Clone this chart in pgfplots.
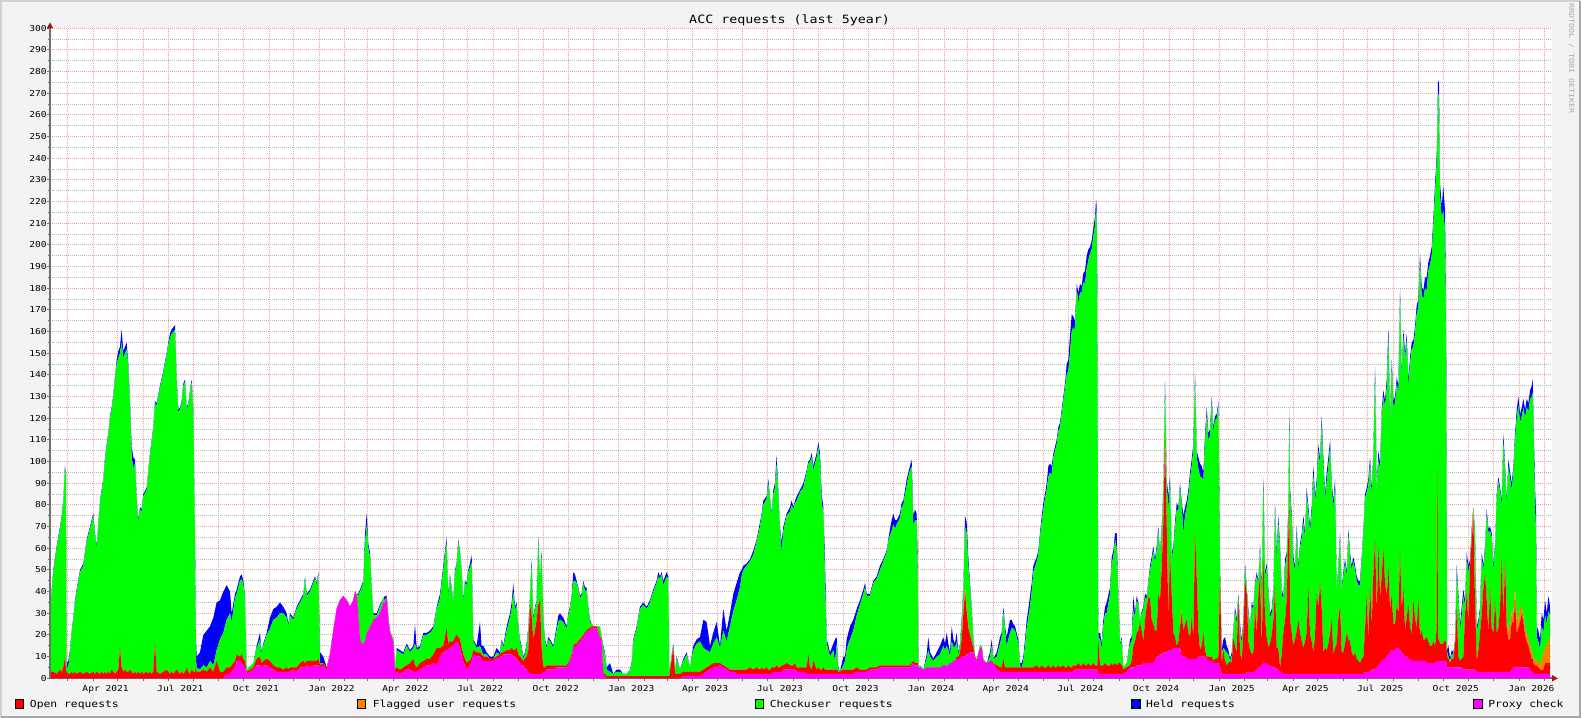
\documentclass[border=0pt]{standalone}
\usepackage{fontspec}
\setmonofont[FakeStretch=1.17]{DejaVu Sans Mono}
\usepackage{pgfplots}
\usepackage{pgfplotstable}
\pgfplotsset{compat=1.18}
\usetikzlibrary{arrows.meta}
\definecolor{bgc}{HTML}{F3F3F3}
\definecolor{mgridc}{HTML}{F2A0A0}
\definecolor{gridc}{HTML}{B8B8B8}
\definecolor{axisc}{HTML}{707070}
\definecolor{arrowc}{HTML}{A01818}
\definecolor{cRed}{HTML}{FF0000}
\definecolor{cOrange}{HTML}{FF8000}
\definecolor{cGreen}{HTML}{00FF00}
\definecolor{cBlue}{HTML}{0000FF}
\definecolor{cMag}{HTML}{FF00FF}

% d = days since 1 Jan 2021; p = proxy check, o = open, f = flagged, c = checkuser, h = held
\pgfplotstableread{
d p o f c h
38.5 0 3 0 33 1
41.3 0 3 0 46 1
45.4 0 2 0 58 1
49.5 0 4 0 65 1
51.9 0 3 0 72 1
53.5 0 5 0 76 1
55.5 0 10 0 87 1
56.8 0 4 0 90 1
57.6 0 3 0 2 2
59.6 0 2 0 3 3
61.6 0 2 0 10 1
63.7 0 3 0 18 1
65.7 0 2 0 25 1
67.7 0 3 0 32 1
69.7 0 2 0 38 1
73.8 0 3 0 46 1
77.9 0 2 0 50 1
81.9 0 3 0 60 1
86.0 0 2 0 67 1
90.0 0 3 0 72 1
92.1 0 2 0 64 1
94.1 0 3 0 57 1
98.2 0 2 0 79 1
100.2 0 3 0 83 1
102.2 0 2 0 89 1
104.3 0 3 0 98 1
106.3 0 2 0 105 1
108.3 0 3 0 109 1
110.3 0 2 0 118 1
112.4 0 4 0 120 1
114.4 0 3 0 127 1
116.4 0 2 0 136 1
118.5 0 3 0 142 2
120.5 0 4 0 144 3
122.5 0 14 0 136 3
124.5 0 5 0 150 6
126.6 0 3 0 145 3
128.6 0 4 0 146 3
130.6 0 3 0 149 3
132.7 0 3 0 140 2
134.7 0 4 0 122 2
136.7 0 3 0 99 5
138.8 0 2 0 95 5
140.8 0 3 0 96 2
142.8 0 2 0 81 1
144.8 0 3 0 69 1
146.9 0 2 0 76 1
148.9 0 3 0 74 1
150.9 0 2 0 82 1
155.0 0 3 0 84 1
157.0 0 2 0 93 1
159.0 0 3 0 100 1
161.1 0 2 0 107 1
163.1 0 3 0 112 1
165.1 0 16 0 111 1
167.2 0 3 0 123 1
171.2 0 2 0 132 1
175.3 0 3 0 138 1
179.3 0 4 0 145 1
181.4 0 3 0 151 1
183.4 0 2 0 155 2
185.4 0 3 0 156 2
187.5 0 2 0 158 2
189.5 0 3 0 158 2
191.5 0 4 0 134 1
193.5 0 3 0 120 1
195.6 0 2 0 122 1
197.6 0 3 0 124 1
199.6 0 2 0 133 1
201.7 0 3 0 134 1
203.7 0 5 0 119 1
205.7 0 3 0 123 1
207.8 0 2 0 130 1
209.8 0 4 0 133 1
211.8 0 3 0 120 1
213.8 0 3 0 63 2
215.1 0 5 0 3 10
215.9 0 3 0 2 5
219.9 0 3 0 1 8
224.0 0 4 0 2 14
228.1 0 3 0 2 17
232.1 0 5 0 3 16
236.2 0 3 0 3 22
240.2 0 8 0 5 22
244.3 0 3 0 15 18
248.3 0 3 0 18 19
252.4 2 3 0 22 16
256.5 2 3 0 25 10
258.5 3 3 0 20 4
262.6 5 3 0 29 2
264.6 8 3 0 28 2
268.6 8 2 0 35 2
270.7 7 4 0 35 2
272.7 6 3 0 34 2
274.7 5 3 0 29 1
276.8 2 1 0 1 0
284.9 4 1 0 2 0
288.9 6 3 0 5 1
293.0 6 4 0 8 3
295.0 5 2 0 4 1
297.0 6 2 0 7 1
301.1 6 3 0 11 1
305.2 5 3 0 15 5
309.2 4 2 0 21 5
313.3 3 2 0 23 5
317.3 3 2 0 25 5
321.4 3 1 0 26 3
325.5 3 2 0 23 2
327.5 3 1 0 20 1
329.5 3 2 0 24 1
333.6 4 1 0 22 1
337.6 3 2 0 27 1
341.7 5 2 0 28 1
345.8 5 3 0 30 1
347.8 5 2 0 39 1
349.8 6 2 0 30 1
353.9 5 3 0 32 1
357.9 6 2 0 36 1
360.0 6 2 0 38 1
362.0 6 2 0 35 1
364.0 6 3 0 39 1
366.1 5 1 0 1 5
370.1 6 1 0 0 3
374.2 4 1 0 0 0
378.2 11 0 0 0 0
382.3 22 0 0 0 0
386.4 32 0 0 0 0
390.4 36 0 0 0 0
394.5 38 0 0 0 0
398.5 36 0 0 0 0
402.6 33 0 0 0 0
406.6 36 0 0 0 0
408.7 40 0 0 0 0
410.7 38 0 0 1 0
412.7 30 0 0 8 1
414.8 18 0 0 22 1
416.8 16 0 0 26 1
418.8 16 0 0 28 1
420.9 17 0 0 45 5
422.9 21 0 0 50 5
424.9 22 0 0 38 2
427.0 24 0 0 32 2
429.0 25 0 0 16 1
431.0 27 0 0 2 1
435.0 28 0 0 1 1
439.1 30 0 0 3 1
443.2 35 0 0 2 0
445.2 35 0 0 1 2
447.2 38 0 0 0 0
449.3 27 0 0 1 0
451.3 21 0 0 1 0
455.4 17 0 0 1 0
457.4 3 1 0 1 0
459.4 3 2 0 8 1
463.5 2 2 0 8 1
467.5 3 2 0 6 1
471.6 4 2 0 9 1
475.6 4 3 0 5 1
479.7 3 6 0 5 1
481.7 3 3 0 10 9
483.8 3 2 0 8 1
487.8 4 3 0 7 1
491.9 5 3 0 12 1
496.0 6 3 0 11 1
500.0 6 3 0 12 1
504.1 7 4 0 12 1
508.1 6 8 0 18 1
512.2 10 4 0 23 2
516.2 12 3 0 35 2
520.2 13 10 0 40 2
522.2 13 3 0 21 1
524.3 14 3 0 30 1
528.3 15 2 0 18 1
530.4 16 3 0 30 1
532.4 17 3 0 32 1
534.4 16 3 0 44 1
536.5 14 4 0 40 1
538.5 11 3 0 35 1
540.5 8 3 0 24 1
542.5 6 3 0 35 1
544.6 4 3 0 36 1
546.6 5 3 0 41 1
548.6 6 2 0 43 2
550.7 8 2 0 44 3
552.7 11 2 0 4 1
556.8 10 2 0 2 1
560.8 10 2 0 3 11
562.8 9 2 0 2 2
564.9 8 2 0 1 4
568.9 8 2 0 1 1
573.0 8 1 0 0 1
577.0 8 1 0 0 1
581.1 9 1 0 2 2
585.2 10 1 0 0 1
587.2 10 2 0 5 1
589.2 11 1 0 2 1
593.3 11 2 0 9 2
597.3 11 2 0 15 2
599.4 11 3 0 18 3
601.4 10 3 0 27 4
603.4 10 3 0 18 2
605.5 9 5 0 20 1
607.5 8 3 0 12 1
609.5 7 3 0 7 1
611.5 6 3 0 5 1
613.6 6 2 0 1 1
615.6 5 4 0 2 1
617.6 4 6 0 5 1
619.7 3 10 0 10 1
621.7 2 32 0 3 1
623.7 2 27 0 24 2
625.8 2 16 0 9 1
627.8 2 20 0 10 1
629.8 2 25 0 8 1
631.8 2 32 0 30 1
633.9 2 34 0 10 1
635.9 2 12 0 44 1
637.9 3 2 0 22 1
640.0 3 2 0 12 1
642.0 4 2 0 8 1
644.0 4 2 0 12 1
646.1 4 2 0 11 1
650.1 4 2 0 8 1
654.2 5 1 0 16 2
656.2 5 1 0 20 3
658.2 5 1 0 21 3
662.3 5 1 0 20 2
666.3 5 1 0 17 1
668.4 6 1 0 22 1
670.4 8 1 0 23 1
672.4 10 1 0 26 1
674.5 14 1 0 30 4
676.5 15 1 0 29 3
678.5 15 1 0 28 1
680.5 16 1 0 24 1
682.6 17 1 0 19 1
684.6 18 1 0 19 1
686.6 19 1 0 24 1
688.7 20 1 0 19 2
690.7 21 1 0 19 1
692.7 22 1 0 9 1
694.8 22 1 0 3 1
696.8 23 1 0 1 0
698.8 23 1 0 0 0
702.9 23 1 0 0 0
706.9 18 1 0 5 0
709.0 17 1 0 1 0
711.0 1 1 0 12 1
713.0 1 1 0 9 1
715.1 0 1 0 3 1
719.1 0 1 0 2 4
723.2 0 1 0 1 0
727.2 0 1 0 2 1
731.3 0 1 0 2 1
735.4 0 1 0 1 0
739.4 0 1 0 1 0
743.5 0 1 0 3 0
745.5 0 1 0 5 1
747.5 0 1 0 16 1
751.6 0 1 0 22 1
755.6 0 1 0 31 1
759.7 0 1 0 33 1
763.8 0 1 0 31 1
767.8 0 1 0 34 1
771.9 0 1 0 39 1
775.9 0 1 0 43 1
778.0 0 1 0 46 2
780.0 0 1 0 45 1
782.0 0 1 0 47 1
784.1 0 1 0 42 2
788.1 0 1 0 46 2
790.1 0 1 0 45 1
791.4 0 1 0 2 0
796.2 0 14 0 1 1
798.3 0 2 0 2 0
800.3 0 2 0 7 1
804.4 0 2 0 2 0
808.4 1 2 0 5 1
812.5 1 2 0 8 1
816.5 1 2 0 2 0
820.6 1 2 0 10 2
824.6 1 2 0 13 2
828.7 1 2 0 14 2
832.8 2 2 0 10 13
836.8 3 2 0 8 13
840.9 4 2 0 6 3
844.9 5 2 0 9 5
849.0 5 2 0 12 7
853.1 6 1 0 7 1
857.1 5 1 0 16 10
861.2 4 1 0 12 5
865.2 3 1 0 20 6
869.3 3 1 0 27 8
873.3 2 2 0 32 8
877.4 2 2 0 38 7
879.4 2 2 0 43 3
881.5 2 2 0 46 2
885.5 2 2 0 48 1
889.6 2 3 0 49 1
893.7 2 2 0 53 2
897.7 2 3 0 58 1
901.8 2 2 0 66 2
903.8 2 3 0 70 1
905.8 2 2 0 76 2
909.9 2 3 0 78 1
911.9 2 2 0 86 2
913.9 2 2 0 79 1
916.0 2 3 0 70 1
918.0 3 2 0 80 2
920.0 3 2 0 83 2
922.0 3 3 0 93 4
924.1 3 2 0 80 2
926.1 3 2 0 64 1
928.1 3 3 0 52 5
930.2 4 2 0 62 2
934.2 4 3 0 68 1
938.3 4 2 0 71 2
940.3 4 2 0 74 2
942.4 4 2 0 72 1
944.4 4 3 0 74 1
946.4 3 2 0 77 2
950.5 3 2 0 81 1
954.5 3 2 0 83 2
958.6 2 3 0 90 1
960.6 2 9 0 88 1
962.7 2 3 0 95 1
964.7 2 2 0 98 2
966.7 2 6 0 88 2
970.8 2 2 0 98 2
972.8 2 3 0 102 2
974.8 2 2 0 97 3
976.9 2 2 0 76 5
978.9 2 3 0 73 1
980.9 2 2 0 40 11
983.0 2 2 0 12 2
987.0 2 2 0 6 2
991.1 2 2 0 9 3
993.1 2 2 0 3 11
995.1 2 2 0 12 3
997.1 2 1 0 1 1
999.2 2 1 0 0 0
1003.2 2 2 0 2 4
1005.3 2 2 0 4 2
1007.3 2 2 0 9 5
1009.3 2 2 0 12 5
1011.4 2 2 0 14 6
1015.4 2 2 0 18 5
1019.5 3 2 0 24 3
1023.5 3 1 0 30 2
1027.6 3 1 0 35 2
1029.6 3 1 0 38 2
1031.6 3 1 0 34 1
1035.7 4 1 0 33 1
1037.7 4 1 0 36 1
1039.8 4 1 0 39 1
1043.8 4 1 0 41 1
1047.9 5 1 0 44 2
1051.9 5 1 0 48 1
1056.0 5 1 0 52 1
1058.0 5 1 0 57 1
1060.1 5 1 0 60 3
1062.1 5 1 0 62 5
1064.1 5 1 0 65 5
1066.2 5 1 0 63 4
1068.2 5 1 0 65 2
1072.2 5 1 0 68 2
1074.3 5 1 0 73 2
1076.3 5 1 0 74 2
1078.3 5 1 0 79 2
1080.4 5 1 0 83 3
1082.4 5 1 0 87 2
1084.4 5 1 0 90 2
1086.4 6 1 0 91 3
1088.5 7 1 0 62 5
1090.5 6 1 0 66 5
1092.5 6 1 0 66 3
1093.8 6 1 0 38 10
1094.6 5 0 0 0 0
1096.6 5 0 0 1 0
1100.7 4 0 0 0 0
1104.7 5 0 0 4 2
1106.7 5 0 0 8 6
1108.8 5 0 0 5 2
1112.8 5 0 0 3 1
1116.9 5 0 0 5 2
1120.9 5 0 0 6 4
1125.0 6 0 0 9 4
1127.0 6 0 0 7 3
1129.1 6 0 0 9 6
1131.1 6 0 0 7 3
1133.1 7 0 0 3 2
1135.2 7 0 0 10 7
1137.2 8 0 0 7 3
1139.2 8 0 0 6 2
1141.2 9 1 0 7 4
1143.3 9 1 0 1 1
1145.3 9 3 0 3 1
1147.3 10 8 0 7 2
1149.4 10 20 3 7 2
1151.4 10 30 2 28 5
1153.4 11 20 2 34 5
1155.5 11 12 1 27 4
1157.5 12 8 0 22 2
1159.5 12 5 0 14 2
1161.5 12 2 0 4 1
1163.6 9 1 0 0 0
1165.6 8 0 0 1 0
1169.7 14 0 0 1 0
1171.7 14 0 0 1 0
1173.7 8 0 0 1 0
1177.8 7 0 0 0 0
1181.8 8 0 0 2 2
1183.9 8 0 0 7 3
1185.9 7 0 0 2 0
1190.0 4 2 0 4 2
1194.0 3 2 0 11 3
1196.0 3 2 0 14 2
1198.1 3 6 0 22 2
1200.1 3 2 0 17 2
1202.1 3 2 0 10 4
1206.2 3 2 0 16 6
1208.2 3 2 0 18 4
1210.2 3 2 0 18 2
1212.3 3 2 0 17 2
1214.3 3 2 0 14 2
1216.3 3 2 0 11 2
1218.4 3 2 0 1 1
1220.4 3 2 0 0 2
1222.4 3 2 0 3 2
1224.5 3 2 0 10 3
1226.5 3 2 0 18 4
1228.5 3 2 0 23 4
1230.5 3 2 0 28 5
1232.6 3 2 0 35 4
1234.6 3 2 0 44 3
1238.7 3 3 0 48 2
1240.7 3 2 0 52 2
1242.7 3 2 0 60 2
1244.8 3 3 0 66 3
1246.8 3 2 0 73 3
1248.8 3 2 0 78 2
1250.8 3 2 0 82 3
1252.9 3 3 0 87 5
1254.9 3 2 0 90 4
1256.9 3 2 0 89 4
1259.0 3 3 0 96 2
1261.0 3 2 0 100 2
1263.0 3 2 0 103 2
1265.0 3 3 0 108 2
1267.1 3 2 0 111 2
1271.1 3 3 0 122 2
1273.2 3 2 0 129 2
1275.2 3 2 0 135 5
1277.2 3 3 0 136 5
1279.2 3 2 0 145 8
1281.3 3 2 0 155 8
1283.3 3 3 0 156 5
1285.3 4 2 0 155 4
1287.4 4 2 0 174 2
1289.4 4 3 0 166 5
1291.4 4 2 0 172 4
1293.4 4 2 0 172 3
1295.5 4 3 0 176 4
1297.5 4 2 0 176 6
1299.5 4 2 0 183 6
1301.6 4 3 0 186 5
1303.6 4 2 0 190 3
1305.6 4 2 0 192 4
1307.7 4 3 0 197 4
1309.7 4 2 0 203 4
1310.9 4 2 0 210 5
1311.7 4 2 0 208 4
1312.5 4 2 0 166 10
1313.7 2 15 0 2 2
1315.8 2 4 0 12 3
1317.8 2 4 0 8 2
1319.8 2 4 0 18 3
1321.9 2 5 0 23 3
1323.9 2 4 0 24 5
1328.0 2 4 0 33 3
1330.0 2 5 0 46 3
1332.0 2 4 0 50 3
1334.1 2 5 0 57 3
1336.1 2 4 0 54 7
1338.1 2 5 0 30 2
1340.1 2 5 0 8 1
1342.2 2 4 0 12 1
1344.2 2 2 0 1 0
1348.3 3 2 0 2 0
1352.3 5 1 0 10 2
1354.3 5 3 0 9 2
1356.4 5 10 0 17 6
1358.4 5 12 0 11 2
1360.4 6 15 0 15 2
1362.5 6 16 0 12 1
1364.5 6 20 0 1 0
1366.5 6 16 0 8 1
1368.6 7 10 0 15 1
1370.6 7 20 0 10 2
1372.6 7 26 0 4 1
1374.6 7 30 0 7 1
1376.7 7 30 0 13 2
1378.7 7 20 0 27 2
1380.7 7 18 0 34 2
1382.7 8 14 0 31 2
1384.8 10 12 0 37 2
1386.8 10 29 0 29 2
1388.8 11 25 0 20 2
1390.9 11 40 2 15 2
1392.9 12 60 2 12 1
1394.9 12 98 2 23 2
1397.0 12 58 1 18 3
1399.0 13 15 0 50 6
1401.0 13 45 0 33 2
1403.1 13 25 0 18 2
1405.1 14 7 0 38 2
1407.1 14 5 0 50 3
1409.2 14 1 0 63 3
1411.2 14 3 0 60 2
1413.2 14 10 0 64 2
1415.2 10 20 2 48 2
1417.3 10 12 0 45 8
1419.3 10 15 0 50 4
1421.3 9 18 0 52 3
1423.3 9 12 0 63 3
1425.4 9 10 0 73 3
1427.4 9 19 0 70 3
1429.4 9 10 0 86 3
1431.5 9 58 0 72 2
1433.5 9 38 0 55 3
1435.5 10 12 0 75 5
1437.6 10 3 0 80 6
1439.6 10 5 0 78 5
1441.6 10 11 0 70 4
1443.6 10 3 0 95 4
1445.7 9 1 0 112 3
1447.7 8 2 0 100 3
1449.7 8 2 0 102 3
1451.8 8 2 0 118 2
1453.8 7 1 0 106 2
1455.8 7 2 0 110 2
1457.9 7 2 0 111 2
1459.9 7 3 0 116 2
1461.9 5 42 0 3 2
1463.9 2 5 0 5 1
1466.0 2 11 0 1 4
1468.0 2 6 0 5 6
1470.0 2 4 0 6 3
1472.1 2 5 0 4 2
1474.1 2 6 0 0 1
1476.1 2 5 0 3 2
1478.1 2 16 0 3 1
1480.2 2 13 0 16 2
1482.2 2 10 0 13 2
1484.2 2 34 0 2 1
1486.3 2 10 0 11 2
1488.3 2 6 0 8 2
1490.3 2 19 0 4 2
1492.4 2 43 0 6 2
1494.4 3 36 0 2 1
1496.4 3 14 0 13 2
1498.4 3 10 0 10 1
1500.5 3 8 0 22 2
1502.5 3 9 0 20 1
1504.5 3 30 0 10 1
1506.6 4 16 0 27 2
1508.6 5 34 0 5 1
1510.6 5 43 0 12 2
1512.7 6 8 0 25 2
1514.7 7 48 0 36 2
1516.7 7 21 0 19 2
1518.7 7 12 0 32 2
1520.8 6 8 0 25 2
1522.8 6 10 0 12 2
1524.8 5 15 0 10 2
1526.9 5 22 0 12 2
1528.9 5 37 0 37 2
1530.9 4 10 0 40 4
1532.9 4 10 0 58 3
1535.0 3 2 0 53 3
1537.0 3 8 0 28 2
1539.0 2 19 0 15 2
1541.1 2 25 0 25 3
1543.1 2 34 0 20 2
1545.1 2 65 0 10 2
1546.3 2 77 0 44 2
1547.1 2 25 0 58 3
1549.2 2 19 0 52 3
1551.2 2 13 0 38 3
1553.2 2 16 0 32 2
1555.3 2 20 0 45 3
1557.3 2 25 0 23 2
1559.3 2 19 0 39 2
1561.4 2 15 0 48 2
1563.4 2 12 0 58 3
1565.4 2 15 0 47 3
1567.4 2 19 0 64 3
1569.5 2 40 0 34 3
1571.5 2 18 0 47 3
1573.5 2 15 0 59 3
1575.6 2 10 0 82 4
1577.6 2 18 0 61 3
1579.6 2 37 0 50 3
1581.7 2 31 0 72 3
1583.7 2 42 0 54 3
1585.7 2 30 0 86 3
1587.7 2 10 0 86 4
1589.8 2 12 0 68 3
1591.8 2 11 0 78 4
1593.8 2 14 0 82 4
1595.9 2 19 0 86 3
1597.9 2 25 0 60 3
1599.9 2 9 0 68 3
1602.0 2 12 0 75 3
1604.0 2 14 0 24 2
1606.0 2 26 0 22 2
1608.0 2 31 0 32 2
1610.1 2 10 0 28 2
1612.1 2 10 0 35 2
1614.1 2 14 0 37 2
1616.2 2 19 0 26 2
1618.2 2 16 0 49 2
1620.2 2 15 0 39 2
1622.2 2 10 0 38 2
1624.3 2 8 0 44 2
1626.3 2 10 0 38 2
1628.3 2 7 0 36 2
1630.4 2 6 0 35 2
1632.4 2 5 0 36 2
1634.4 2 7 0 45 2
1636.5 2 8 0 57 2
1638.5 3 20 0 60 2
1640.5 3 35 0 48 2
1642.5 3 15 0 71 3
1644.6 3 40 0 56 3
1646.6 4 20 0 60 3
1648.6 4 45 0 53 3
1650.7 4 60 0 77 3
1652.7 5 25 0 55 3
1654.7 6 55 0 40 4
1656.8 7 30 0 59 3
1658.8 8 40 0 73 3
1660.8 9 50 0 71 3
1662.8 9 35 0 81 3
1664.9 10 28 0 96 4
1666.9 11 40 0 106 5
1668.9 12 20 0 86 3
1671.0 13 25 0 106 3
1673.0 13 12 0 100 3
1675.0 13 12 0 102 3
1677.1 14 20 0 102 3
1679.1 14 16 0 101 4
1681.1 13 45 0 119 3
1683.1 12 20 0 106 3
1685.2 11 30 0 117 3
1687.2 10 12 0 125 3
1689.2 10 18 0 128 3
1691.2 9 25 0 101 3
1693.3 9 15 0 121 3
1695.3 8 12 0 132 3
1697.3 8 28 0 117 3
1699.3 8 20 0 131 3
1701.3 8 15 0 145 4
1703.4 8 28 0 135 4
1705.4 8 12 0 172 4
1707.4 8 14 0 155 4
1709.5 8 10 0 157 4
1711.5 8 10 0 162 5
1713.5 7 12 0 160 6
1715.5 7 10 0 171 4
1717.6 7 8 0 176 4
1719.6 7 8 0 180 4
1721.6 7 10 0 191 4
1723.7 7 8 0 208 5
1725.7 8 15 0 214 5
1726.5 8 88 0 155 5
1727.3 8 10 0 252 6
1728.5 8 10 0 250 7
1729.7 8 8 0 207 6
1731.8 8 8 0 196 6
1733.8 8 8 0 200 11
1735.8 8 10 0 188 10
1737.1 8 8 0 140 19
1738.5 5 5 0 2 1
1740.0 5 4 0 1 5
1742.0 5 2 0 1 1
1744.0 5 4 0 2 2
1746.0 5 4 0 2 1
1748.1 5 10 0 2 1
1750.1 5 27 0 17 3
1752.1 5 5 0 26 3
1754.2 5 3 0 14 3
1756.2 5 4 0 20 4
1758.2 4 6 0 28 3
1760.3 4 26 0 3 3
1762.3 4 35 0 16 3
1764.3 4 22 0 23 3
1766.3 4 47 0 2 2
1768.4 4 60 0 4 2
1770.4 4 70 5 0 0
1772.4 4 30 0 30 3
1774.5 3 5 0 14 2
1776.5 3 10 0 12 2
1778.5 3 18 0 10 2
1780.6 3 27 0 25 3
1782.6 3 39 0 8 2
1784.6 3 45 0 11 2
1786.6 3 33 0 40 2
1788.7 3 18 0 46 2
1790.7 3 39 0 26 2
1792.7 3 20 0 42 2
1794.8 3 18 0 29 2
1796.8 3 33 0 24 2
1798.8 3 18 0 62 2
1800.8 3 20 0 68 2
1802.9 3 30 0 53 2
1804.9 3 52 0 25 2
1806.9 3 25 0 82 3
1809.0 3 52 0 40 3
1811.0 3 20 3 54 2
1813.0 3 15 5 75 3
1815.1 3 15 6 68 3
1817.1 4 23 4 56 3
1819.1 5 20 5 65 3
1821.1 5 31 6 68 3
1823.2 5 16 6 93 4
1825.2 5 18 4 99 4
1827.2 5 21 7 85 4
1829.3 5 25 3 88 4
1831.3 5 21 2 97 4
1833.3 5 15 3 97 4
1835.4 5 12 3 105 4
1837.4 5 10 3 105 4
1839.4 4 8 3 114 4
1841.4 3 6 3 118 5
1842.7 3 6 3 120 6
1843.5 2 5 2 106 6
1845.5 2 4 2 70 10
1846.7 2 4 3 55 12
1847.5 2 4 2 11 5
1849.5 2 3 2 10 5
1851.6 2 2 3 6 5
1853.6 2 2 5 15 6
1855.6 2 2 7 10 6
1857.7 2 5 7 15 7
1859.7 2 5 8 10 5
1861.7 2 5 10 14 7
1863.8 2 5 12 10 4
}\acc

\begin{document}
\begin{tikzpicture}
\fill[bgc] (0,0) rectangle (790.5pt,359pt);
\draw[black!18, line width=1pt] (0.5pt,0.5pt) -- (0.5pt,358.5pt) -- (790pt,358.5pt);
\draw[black!35, line width=1.2pt] (0.6pt,0.6pt) -- (789.9pt,0.6pt) -- (789.9pt,358.4pt);
\begin{axis}[
  at={(25pt,19.85pt)}, anchor=south west,
  scale only axis, width=751pt, height=325pt,
  xmin=37.3, xmax=1866.1, ymin=0, ymax=300,
  axis background/.style={fill=white},
  axis x line=bottom, axis y line=left,
  axis line style={draw=axisc, line width=0.8pt, -{Triangle[length=3pt,width=3pt,color=arrowc]}, shorten >=-3pt},
  stack plots=y, no markers,
  xtick={59,90,120,151,181,212,243,273,304,334,365,396,424,455,485,516,546,577,608,638,669,699,730,761,789,820,850,881,911,942,973,1003,1034,1064,1095,1126,1155,1186,1216,1247,1277,1308,1339,1369,1400,1430,1461,1492,1520,1551,1581,1612,1642,1673,1704,1734,1765,1795,1826,1857},
  xticklabels={},
  minor x tick num=2,
  extra x ticks={105,196,288,380,470,561,653,745,835,926,1018,1110,1201,1292,1384,1476,1566,1657,1749,1841},
  extra x tick labels={Apr 2021,Jul 2021,Oct 2021,Jan 2022,Apr 2022,Jul 2022,Oct 2022,Jan 2023,Apr 2023,Jul 2023,Oct 2023,Jan 2024,Apr 2024,Jul 2024,Oct 2024,Jan 2025,Apr 2025,Jul 2025,Oct 2025,Jan 2026},
  extra x tick style={grid=none, major tick length=0pt},
  ytick={0,10,...,300}, minor y tick num=1,
  grid=both,
  major grid style={draw=mgridc, line width=0.5pt, dash pattern=on 0.5pt off 0.5pt},
  minor grid style={draw=gridc, line width=0.5pt, dash pattern=on 0.5pt off 0.5pt},
  tick align=outside,
  major tick length=1.5pt, minor tick length=1pt,
  tick style={draw=axisc, line width=0.5pt},
  xticklabel style={font=\ttfamily\fontsize{4.1}{5}\selectfont, inner sep=0pt, yshift=-3.4pt},
  yticklabel style={font=\ttfamily\fontsize{4.1}{5}\selectfont, inner sep=0pt, anchor=east},
  /pgf/number format/assume math mode=true,
  clip=true,
]
\addplot[fill=cMag, draw=none] table[x=d,y=p]{\acc} \closedcycle;
\addplot[fill=cRed, draw=none] table[x=d,y=o]{\acc} \closedcycle;
\addplot[fill=cOrange, draw=none] table[x=d,y=f]{\acc} \closedcycle;
\addplot[fill=cGreen, draw=none] table[x=d,y=c]{\acc} \closedcycle;
\addplot[fill=cBlue, draw=none] table[x=d,y=h]{\acc} \closedcycle;
\end{axis}
% title
\node[anchor=base, inner sep=0pt, font=\ttfamily\fontsize{5.7}{6}\selectfont] at (394.8pt,347.4pt) {ACC requests (last 5year)};
% watermark
\node[rotate=-90, inner sep=0pt, text=black!33, font=\ttfamily\fontsize{3.55}{4}\selectfont] at (785.75pt,329.5pt) {RRDTOOL / TOBI OETIKER};
% legend
\begin{scope}[font=\ttfamily\fontsize{4.85}{5}\selectfont]
\filldraw[fill=cRed, draw=black, line width=0.5pt] (7.7pt,4.5pt) rectangle (11.9pt,9.4pt);
\node[anchor=base west, inner sep=0pt] at (14.8pt,5.35pt) {Open requests};
\filldraw[fill=cOrange, draw=black, line width=0.5pt] (178.7pt,4.5pt) rectangle (182.9pt,9.4pt);
\node[anchor=base west, inner sep=0pt] at (186.2pt,5.35pt) {Flagged user requests};
\filldraw[fill=cGreen, draw=black, line width=0.5pt] (377.7pt,4.5pt) rectangle (381.9pt,9.4pt);
\node[anchor=base west, inner sep=0pt] at (384.7pt,5.35pt) {Checkuser requests};
\filldraw[fill=cBlue, draw=black, line width=0.5pt] (565.9pt,4.5pt) rectangle (570.1pt,9.4pt);
\node[anchor=base west, inner sep=0pt] at (572.9pt,5.35pt) {Held requests};
\filldraw[fill=cMag, draw=black, line width=0.5pt] (736.9pt,4.5pt) rectangle (741.1pt,9.4pt);
\node[anchor=base west, inner sep=0pt] at (744pt,5.35pt) {Proxy check};
\end{scope}
\end{tikzpicture}
\end{document}
